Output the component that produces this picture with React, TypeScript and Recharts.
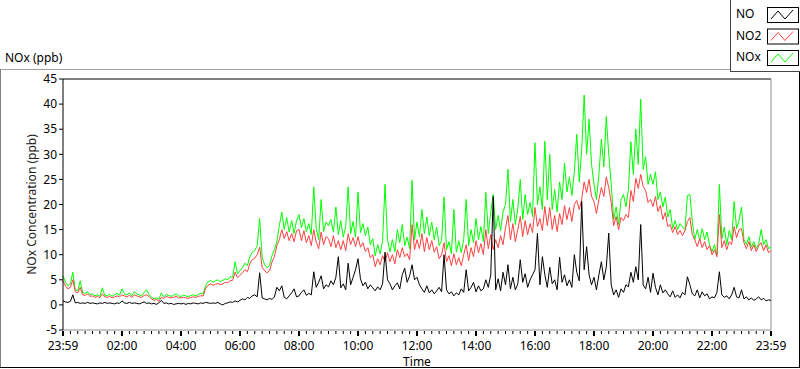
import { LineChart, Line, XAxis, YAxis, ReferenceLine, Legend } from 'recharts';

// 5-minute readings from 23:59 to 23:59, one row per hour
const noValues = [
  0.8, 0.6, 0.5, 0.7, 2.0, 0.4, 0.5, 0.3, 0.4, 0.3, 0.5, 0.3,
  0.4, 0.3, 0.2, 0.4, 0.3, 0.5, 0.3, 0.4, 0.3, 0.2, 0.4, 0.3,
  0.8, 0.4, 0.3, 0.5, 0.3, 0.4, 0.3, 0.2, 0.4, 0.6, 0.3, 0.4,
  0.2, 0.3, 0.1, 0.4, 0.9, 0.3, 0.4, 0.2, 0.3, 0.1, 0.2, 0.3,
  0.2, 0.3, 0.1, 0.3, 0.2, 0.4, 0.3, 0.2, 0.4, 0.3, 0.5, 0.4,
  0.3, 0.4, 0.3, 0.5, 0.2, 0.0, 0.3, 0.4, 0.6, 0.5, 0.8, 0.6,
  0.9, 1.2, 1.0, 1.5, 1.3, 1.8, 2.0, 1.6, 6.4, 1.4, 1.2, 1.0,
  1.3, 1.1, 1.6, 3.5, 2.8, 3.8, 1.5, 1.2, 1.8, 2.4, 3.2, 1.6,
  1.8, 2.5, 3.0, 1.9, 2.3, 2.0, 6.6, 3.5, 4.5, 5.8, 3.2, 4.0,
  3.6, 4.8, 4.0, 5.5, 9.6, 3.4, 4.2, 3.0, 8.3, 4.0, 5.5, 7.0,
  9.2, 5.2, 3.8, 4.5, 3.2, 4.0, 3.4, 2.8, 3.6, 3.0, 4.2, 10.5,
  5.0, 4.2, 3.0, 3.8, 4.4, 3.2, 6.0, 7.3, 4.5, 5.8, 8.0, 5.0,
  5.5, 4.0, 3.2, 2.5, 3.8, 2.4, 3.0, 2.2, 2.8, 3.5, 2.6, 10.0,
  3.0, 2.2, 2.6, 1.8, 2.4, 2.0, 3.2, 2.5, 7.0, 2.8, 3.5, 4.5,
  2.6, 3.8, 2.8, 3.2, 5.0, 3.5, 6.0, 21.6, 3.0, 5.2, 2.8, 6.5,
  4.0, 8.0, 3.2, 5.5, 3.0, 4.2, 9.0, 4.5, 6.2, 3.5, 5.0, 6.0,
  7.0, 14.3, 4.0, 9.6, 6.0, 3.5, 7.5, 4.2, 5.0, 3.0, 9.5, 4.5,
  6.0, 3.8, 5.0, 3.5, 10.0, 6.5, 4.8, 20.6, 7.0, 11.6, 6.0, 4.0,
  5.5, 3.0, 6.0, 8.6, 5.0, 7.5, 14.3, 4.0, 2.0, 3.0, 1.5, 3.2,
  2.5, 4.0, 3.6, 6.5, 4.5, 7.6, 5.0, 16.0, 4.0, 3.2, 5.5, 2.5,
  6.3, 3.5, 2.0, 4.0, 2.4, 3.0, 2.2, 1.6, 2.8, 1.5, 2.0, 1.4,
  2.5, 2.0, 5.6, 4.0, 2.2, 1.8, 3.0, 1.4, 2.6, 1.8, 2.2, 1.2,
  1.6, 1.4, 2.5, 6.6, 2.0, 1.5, 1.8, 1.2, 2.0, 3.5, 1.6, 1.4,
  3.0, 1.2, 1.6, 1.0, 1.4, 0.9, 1.2, 1.6, 1.0, 1.3, 0.8, 1.0, 0.9,
];

const no2Values = [
  4.8, 3.8, 3.2, 3.5, 5.0, 2.6, 2.4, 3.5, 2.0, 1.9, 2.2, 1.7,
  1.8, 1.5, 1.7, 1.4, 2.2, 1.6, 1.5, 1.7, 1.4, 1.6, 1.8, 1.6,
  2.0, 1.8, 1.6, 1.9, 1.5, 2.0, 1.8, 1.6, 1.5, 1.9, 2.0, 1.7,
  1.2, 0.9, 1.1, 0.7, 1.5, 1.3, 1.7, 1.5, 1.4, 1.5, 1.7, 1.4,
  1.4, 1.5, 1.4, 1.3, 1.5, 1.6, 1.5, 1.7, 1.8, 1.8, 3.3, 3.9,
  4.2, 3.9, 4.1, 4.3, 4.0, 4.2, 4.5, 4.4, 4.8, 4.9, 6.5, 5.4,
  5.9, 6.4, 7.0, 6.6, 8.2, 9.0, 9.3, 10.0, 11.5, 7.5, 6.8, 6.4,
  6.8, 8.5, 9.6, 11.8, 13.0, 15.0, 13.2, 14.6, 12.8, 14.2, 12.6, 14.8,
  15.0, 12.8, 14.8, 12.4, 13.8, 11.8, 15.0, 12.5, 11.2, 14.5, 12.0, 13.6,
  13.2, 11.6, 13.8, 11.4, 12.8, 11.0, 12.8, 10.8, 14.2, 12.0, 13.4, 11.6,
  13.6, 11.5, 12.4, 10.6, 11.4, 9.4, 10.0, 7.6, 9.2, 8.0, 9.8, 8.6,
  10.4, 8.6, 10.0, 8.2, 11.0, 9.4, 11.4, 9.6, 10.2, 9.0, 16.0, 11.0,
  13.0, 11.2, 14.2, 10.6, 13.4, 11.0, 12.8, 10.5, 11.6, 9.2, 10.0, 12.4,
  8.6, 9.8, 7.8, 10.2, 8.0, 9.4, 7.8, 10.0, 12.0, 8.8, 11.4, 9.6,
  12.8, 10.4, 12.2, 10.0, 15.0, 11.2, 14.0, 11.0, 13.0, 11.4, 13.8, 12.0,
  15.4, 17.8, 13.0, 16.2, 12.6, 15.0, 17.6, 13.6, 16.8, 14.0, 16.2, 14.4,
  19.4, 15.6, 17.2, 14.8, 19.6, 15.8, 19.4, 15.0, 17.8, 14.6, 18.2, 16.0,
  19.8, 17.0, 19.4, 16.6, 20.0, 20.8, 19.0, 21.0, 24.5, 22.4, 25.0, 21.6,
  20.6, 18.2, 21.0, 23.4, 21.6, 25.5, 23.4, 20.4, 15.8, 17.6, 15.0, 17.4,
  16.8, 18.0, 17.4, 22.8, 20.6, 25.2, 23.2, 26.0, 23.6, 22.8, 20.4, 21.0,
  19.6, 21.6, 18.6, 19.8, 17.0, 18.4, 15.6, 16.0, 14.4, 15.6, 14.0, 14.8,
  13.8, 14.8, 16.6, 17.4, 14.0, 13.0, 11.6, 13.2, 11.4, 12.6, 11.0, 11.8,
  10.0, 11.0, 9.6, 18.0, 11.4, 12.8, 11.0, 12.6, 12.0, 15.6, 13.4, 15.0,
  15.2, 12.4, 11.2, 12.6, 10.8, 12.0, 10.6, 11.8, 12.4, 10.8, 12.0, 10.4, 10.8,
];

const noxValues = [
  5.8, 4.5, 3.8, 4.2, 6.5, 3.0, 2.8, 4.8, 2.4, 2.3, 2.6, 2.0,
  2.2, 1.8, 2.0, 1.7, 3.4, 1.9, 1.8, 2.1, 1.7, 2.0, 2.3, 1.9,
  3.2, 2.2, 2.0, 2.4, 1.8, 2.6, 2.2, 2.0, 1.8, 2.5, 3.0, 2.1,
  1.5, 1.2, 1.4, 1.1, 2.4, 1.6, 2.1, 1.9, 1.7, 1.9, 2.2, 1.8,
  1.7, 1.9, 1.8, 1.6, 1.9, 2.0, 1.8, 2.1, 2.3, 2.2, 3.8, 4.6,
  4.9, 4.5, 4.8, 5.0, 4.6, 4.9, 5.2, 5.0, 5.6, 5.5, 8.6, 6.2,
  6.8, 7.4, 8.3, 7.8, 9.6, 10.5, 10.8, 11.8, 17.2, 9.5, 8.0, 7.4,
  7.8, 9.8, 11.0, 12.6, 15.8, 18.5, 15.0, 17.4, 14.5, 16.8, 14.2, 16.8,
  18.0, 15.4, 17.2, 14.6, 16.2, 14.0, 23.5, 15.2, 13.0, 21.0, 14.6, 16.5,
  15.8, 17.0, 14.5, 19.5, 14.0, 16.8, 13.5, 15.6, 23.5, 14.2, 16.6, 13.5,
  22.5, 14.4, 16.2, 13.8, 15.5, 12.0, 13.2, 9.8, 12.0, 10.2, 12.8, 24.0,
  13.0, 10.6, 13.0, 10.6, 15.0, 12.4, 16.0, 11.8, 13.5, 11.2, 24.8, 13.0,
  16.5, 13.6, 19.0, 14.2, 17.5, 13.8, 16.5, 13.0, 15.5, 11.8, 12.8, 21.5,
  11.0, 12.6, 10.2, 19.0, 10.5, 12.8, 10.4, 13.0, 21.0, 11.8, 15.0, 12.4,
  17.2, 13.0, 15.6, 12.6, 22.4, 14.2, 18.5, 22.0, 15.0, 17.8, 14.8, 18.5,
  20.0, 27.0, 16.6, 21.0, 16.0, 19.2, 25.0, 17.0, 22.0, 18.0, 20.4, 17.6,
  32.3, 20.0, 23.5, 19.0, 32.6, 21.0, 30.0, 19.0, 23.0, 18.5, 24.5, 21.0,
  28.2, 22.5, 25.5, 21.8, 26.5, 34.0, 24.5, 31.0, 41.8, 30.0, 37.0, 28.0,
  24.0, 21.0, 26.0, 33.0, 27.5, 37.5, 30.0, 24.0, 17.0, 19.5, 16.0, 21.0,
  22.0, 19.5, 23.0, 32.5, 26.0, 35.0, 28.0, 41.0, 27.0, 29.5, 24.0, 26.0,
  24.0, 26.5, 21.0, 22.5, 19.5, 21.5, 17.5, 19.0, 15.2, 16.8, 15.0, 16.2,
  15.5, 15.0, 21.8, 22.0, 16.5, 13.0, 15.0, 12.8, 15.2, 13.0, 14.5, 12.0,
  10.6, 12.0, 10.0, 24.0, 13.2, 15.5, 12.0, 14.8, 13.0, 20.6, 15.2, 16.8,
  19.5, 13.0, 12.0, 13.6, 11.5, 12.6, 11.2, 12.2, 15.0, 12.0, 13.0, 11.2, 11.5,
];

const timeLabels = ['23:59', '02:00', '04:00', '06:00', '08:00', '10:00', '12:00',
  '14:00', '16:00', '18:00', '20:00', '22:00', '23:59'];
const yTicks = [-5, 0, 5, 10, 15, 20, 25, 30, 35, 40, 45];

const STEP_MIN = 5;
const data = noxValues.map((v, i) => ({
  t: i * STEP_MIN,
  NO: noValues[i],
  NO2: no2Values[i],
  NOx: v,
}));

// major every 2 h, minor every 15 min
const xTicks: number[] = [];
for (let m = 0; m <= 1440; m += 15) xTicks.push(m);

const font = "'Noto Sans', 'DejaVu Sans', sans-serif";

const TimeTick = (props: any) => {
  const { x, y, payload } = props;
  const v = payload.value as number;
  const major = v % 120 === 0;
  return (
    <g>
      <line x1={x} x2={x} y1={y + 1} y2={y + (major ? 6 : 4)} stroke="#000" strokeWidth={major ? 2 : 1} />
      {major && (
        <text x={x} y={y + 20} textAnchor="middle" fontSize={12} fontFamily={font} fill="#000">
          {timeLabels[v / 120]}
        </text>
      )}
    </g>
  );
};

const LegendBox = (props: any) => {
  const items = props.payload || [];
  return (
    <svg width={70} height={72} style={{ display: 'block' }}>
      <rect x={0.5} y={-1} width={70} height={72.5} fill="#fff" stroke="#444" />
      {items.map((it: any, i: number) => {
        const top = 7 + i * 21.5;
        return (
          <g key={it.value}>
            <text x={6} y={top + 11} fontSize={12} fontFamily={font} fill="#000">{it.value}</text>
            <rect x={37.5} y={top + 0.5} width={31} height={15} fill="#fff" stroke="#000" />
            <polyline
              points={`${41},${top + 12} ${48},${top + 4} ${55},${top + 12} ${63},${top + 3}`}
              fill="none"
              stroke={it.color}
              strokeWidth={1}
            />
          </g>
        );
      })}
    </svg>
  );
};

export default function App() {
  return (
    <div style={{ position: 'absolute', left: 0, top: 0, width: 800, height: 369, background: '#fff', fontFamily: font }}>
      <svg width={800} height={369} style={{ position: 'absolute', left: 0, top: 0 }}>
        <line x1={0} x2={730} y1={69.5} y2={69.5} stroke="#a0a0a0" />
        <line x1={0.5} x2={0.5} y1={69} y2={368} stroke="#808080" />
        <line x1={0} x2={800} y1={367.5} y2={367.5} stroke="#000" />
        <line x1={799.5} x2={799.5} y1={70} y2={368} stroke="#000" />
        <text x={5} y={62} fontSize={12} fontFamily={font} fill="#000">NOx (ppb)</text>
      </svg>
      <div style={{ position: 'absolute', left: 0, top: 0 }}>
        <LineChart width={800} height={369} data={data} margin={{ top: 79, right: 29, bottom: 0, left: 0 }}>
          <XAxis
            dataKey="t"
            type="number"
            domain={[0, 1440]}
            ticks={xTicks}
            interval={0}
            tick={<TimeTick />}
            tickLine={false}
            tickSize={0}
            tickMargin={0}
            height={39}
            axisLine={{ stroke: '#909090' }}
            label={{ value: 'Time', position: 'insideBottom', offset: 3, fontSize: 12, fill: '#000', fontFamily: font }}
          />
          <YAxis
            type="number"
            domain={[-5, 45]}
            ticks={yTicks}
            interval={0}
            width={63}
            tickSize={4}
            tickMargin={2}
            tickLine={{ stroke: '#000' }}
            axisLine={{ stroke: '#000' }}
            tick={{ fontSize: 12, fill: '#000', fontFamily: font }}
            label={{ value: 'NOx Concentration (ppb)', angle: -90, position: 'insideLeft', offset: 32, fontSize: 12, fill: '#222', fontFamily: font, style: { textAnchor: 'middle' } }}
          />
          <ReferenceLine y={45} stroke="#000" />
          <ReferenceLine x={1440} stroke="#909090" />
          <Legend
            layout="vertical"
            verticalAlign="middle"
            align="center"
            content={<LegendBox />}
            wrapperStyle={{ position: 'absolute', left: 730, top: 0, width: 70, height: 72 }}
            payload={[
              { value: 'NO', type: 'line', color: '#000000' },
              { value: 'NO2', type: 'line', color: '#ff4040' },
              { value: 'NOx', type: 'line', color: '#00ee00' },
            ]}
          />
          <Line type="linear" dataKey="NOx" stroke="#00ff00" strokeWidth={1} dot={false} isAnimationActive={false} />
          <Line type="linear" dataKey="NO2" stroke="#ff4040" strokeWidth={1} dot={false} isAnimationActive={false} />
          <Line type="linear" dataKey="NO" stroke="#000000" strokeWidth={1} dot={false} isAnimationActive={false} />
        </LineChart>
      </div>
    </div>
  );
}
